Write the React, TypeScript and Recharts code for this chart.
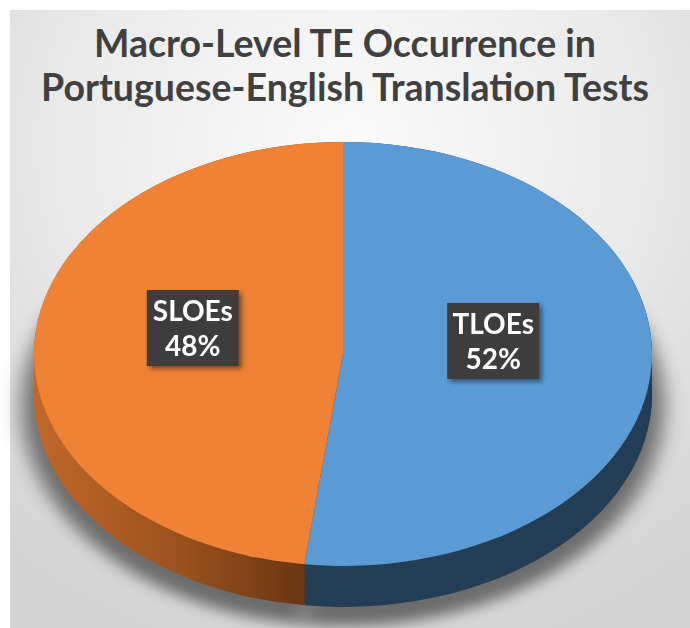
import { Cell, Pie, PieChart } from "recharts";

// Macro-Level TE Occurrence - 3D style pie (Excel look)
const categories = ["TLOEs", "SLOEs"];
const shares = [52, 48];
const topColors = ["#5b9bd5", "#ef8234"];
const sideColors = ["#243e56", "url(#sloeSide)"];

const data = categories.map((name, i) => ({ name, value: shares[i] }));

const K = 0.6861; // vertical squash of the pie (tilt)
const CX = 343;
const CY = 354 / K;
const R = 309;
const DEPTH = 41 / K;
const LABEL_R = 150.5;
const LABEL_SHIFT = -19.5 / K;
const RAD = Math.PI / 180;

const depthLayers = Array.from({ length: 21 }, (_, i) => DEPTH - i * (DEPTH / 20));

function renderLabel(props: any) {
  const { cx, cy, midAngle, index } = props;
  const x = cx + LABEL_R * Math.cos(-midAngle * RAD);
  const y = cy + LABEL_R * Math.sin(-midAngle * RAD) + LABEL_SHIFT;
  return (
    <g transform={`translate(${x},${y}) scale(1,${1 / K})`}>
      <rect x={-46} y={-38} width={92} height={76} fill="#3e3e3e" filter="url(#boxShadow)" />
      <text
        x={0}
        y={-7}
        textAnchor="middle"
        fill="#ffffff"
        fontFamily="Lato, 'Open Sans', sans-serif"
        fontWeight={700}
        fontSize={28}
      >
        {categories[index]}
      </text>
      <text
        x={0}
        y={28}
        textAnchor="middle"
        fill="#ffffff"
        fontFamily="Lato, 'Open Sans', sans-serif"
        fontWeight={700}
        fontSize={28}
      >
        {`${shares[index]}%`}
      </text>
    </g>
  );
}

export default function App() {
  return (
    <div
      style={{
        position: "absolute",
        left: 0,
        top: 0,
        width: 690,
        height: 628,
        background: "#ffffff",
        overflow: "hidden",
      }}
    >
      {/* panel background */}
      <div
        style={{
          position: "absolute",
          left: 10,
          top: 10,
          width: 680,
          height: 618,
          background:
            "radial-gradient(ellipse 80% 85% at 50% 22%, #fbfbfb 0%, #ebebeb 50%, #d3d3d3 100%)",
        }}
      />

      <div
        style={{
          position: "absolute",
          left: 0,
          top: 21,
          width: 690,
          textAlign: "center",
          fontFamily: "Lato, 'Open Sans', sans-serif",
          fontWeight: 700,
          fontSize: 37.5,
          lineHeight: "44px",
          color: "#404040",
        }}
      >
        Macro-Level TE Occurrence in
        <br />
        Portuguese-English Translation Tests
      </div>

      {/* pie, drawn round then squashed vertically to look tilted */}
      <div
        style={{
          position: "absolute",
          left: 0,
          top: 0,
          width: 690,
          height: 940,
          transform: `scaleY(${K})`,
          transformOrigin: "0 0",
        }}
      >
        <PieChart width={690} height={940} margin={{ top: 0, right: 0, bottom: 0, left: 0 }}>
          <defs>
            <linearGradient id="sloeSide" x1={30} y1={0} x2={305} y2={0} gradientUnits="userSpaceOnUse">
              <stop offset="0%" stopColor="#c2682a" />
              <stop offset="55%" stopColor="#9a511d" />
              <stop offset="100%" stopColor="#6a3511" />
            </linearGradient>
            <filter id="pieShadow" x="-20%" y="-20%" width="140%" height="140%">
              <feGaussianBlur stdDeviation="10" />
            </filter>
            <filter id="boxShadow" x="-20%" y="-20%" width="150%" height="150%">
              <feDropShadow dx="3" dy="3" stdDeviation="2.5" floodColor="#000" floodOpacity="0.45" />
            </filter>
          </defs>

          {/* soft shadow under the pie */}
          <Pie
            key="shadow"
            data={data}
            dataKey="value"
            cx={CX}
            cy={CY + DEPTH + 16}
            outerRadius={R + 12}
            startAngle={90}
            endAngle={-270}
            stroke="none"
            isAnimationActive={false}
          >
            {data.map((_, i) => (
              <Cell key={`sh-${i}`} fill="#000000" fillOpacity={0.5} filter="url(#pieShadow)" />
            ))}
          </Pie>

          {/* side walls */}
          {depthLayers.map((off, j) => (
            <Pie
              key={`side-${j}`}
              data={data}
              dataKey="value"
              cx={CX}
              cy={CY + off}
              outerRadius={R}
              startAngle={90}
              endAngle={-270}
              stroke="none"
              isAnimationActive={false}
            >
              {data.map((_, i) => (
                <Cell key={`s-${j}-${i}`} fill={sideColors[i]} />
              ))}
            </Pie>
          ))}

          {/* top face */}
          <Pie
            key="top"
            data={data}
            dataKey="value"
            cx={CX}
            cy={CY}
            outerRadius={R}
            startAngle={90}
            endAngle={-270}
            stroke="none"
            isAnimationActive={false}
            label={renderLabel}
            labelLine={false}
          >
            {data.map((_, i) => (
              <Cell key={`t-${i}`} fill={topColors[i]} />
            ))}
          </Pie>
        </PieChart>
      </div>
    </div>
  );
}
